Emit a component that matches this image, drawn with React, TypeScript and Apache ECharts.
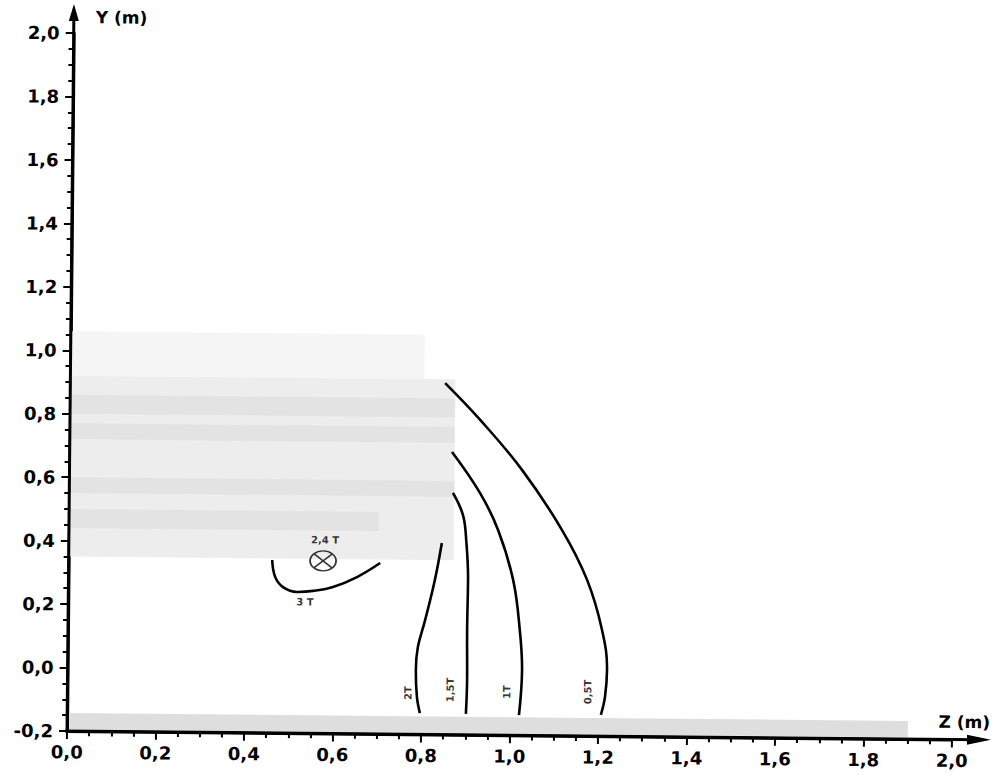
import React, { useEffect, useRef } from 'react';
import * as echarts from 'echarts';

// Field-line contours (Z in m, Y in m)
const curve05T = [[0.847, 0.908], [0.927, 0.793], [1.023, 0.636], [1.114, 0.449], [1.172, 0.292], [1.207, 0.134], [1.219, 0.009], [1.215, -0.076], [1.206, -0.133]];
const curve1T = [[0.864, 0.691], [0.928, 0.563], [0.970, 0.446], [1.005, 0.289], [1.021, 0.132], [1.027, 0.006], [1.021, -0.136]];
const curve15T = [[0.867, 0.562], [0.890, 0.493], [0.898, 0.414], [0.903, 0.288], [0.902, 0.130], [0.903, -0.027], [0.901, -0.134]];
const curve2T = [[0.843, 0.404], [0.828, 0.287], [0.807, 0.161], [0.791, 0.075], [0.787, 0.003], [0.790, -0.082], [0.797, -0.133]];
const curve3T = [[0.460, 0.345], [0.467, 0.292], [0.485, 0.260], [0.517, 0.245], [0.553, 0.249], [0.598, 0.262], [0.652, 0.294], [0.704, 0.339]];

// Contour labels
const labelNames = ['2T', '1,5T', '1T', '0,5T', '3 T', '2,4 T'];
const labelPos = [[0.770, -0.070], [0.865, -0.059], [0.993, -0.064], [1.176, -0.061], [0.535, 0.214], [0.579, 0.410]];
const labelVertical = [true, true, true, true, false, false];

// Peak marker (2,4 T)
const peakPoint = [[0.575, 0.344]];

// Shaded zones: [zStart, zEnd, yStart, yEnd]
const zoneUpperFringe = [0.0, 0.80, 0.92, 1.06];
const zoneUpper = [0.0, 0.87, 0.35, 0.92];
const zoneBands = [[0.0, 0.87, 0.80, 0.86], [0.0, 0.87, 0.72, 0.77], [0.0, 0.87, 0.55, 0.60], [0.0, 0.70, 0.44, 0.50]];
const zoneFloor = [0.005, 1.9, -0.195, -0.143];

const zMin = 0, zMax = 2.0, yMin = -0.2, yMax = 2.0, step = 0.2;

const fmt = (v: number) => (Math.abs(v) < 1e-9 ? 0 : v).toFixed(1).replace('.', ',');

const FONT = 'DejaVu Sans';

export default function App() {
  const ref = useRef<HTMLDivElement>(null);
  useEffect(() => {
    document.body.style.margin = '0';
    document.body.style.overflow = 'hidden';
    const chart = echarts.init(ref.current!, null, { renderer: 'svg' });
    const L = 67, T = 33, R = 952, B = 731;

    const rectSeries = (zones: number[][], color: string) => ({
      type: 'custom',
      silent: true,
      z: 1,
      data: zones,
      renderItem: (params: any, api: any) => {
        const p0 = api.coord([api.value(0), api.value(3)]);
        const p1 = api.coord([api.value(1), api.value(2)]);
        return {
          type: 'rect',
          shape: { x: p0[0], y: p0[1], width: p1[0] - p0[0], height: p1[1] - p0[1] },
          style: { fill: color },
        };
      },
    });

    const lineSeries = (data: number[][]) => ({
      type: 'line',
      data,
      smooth: 0.4,
      showSymbol: false,
      silent: true,
      z: 5,
      lineStyle: { color: '#000', width: 2.6 },
    });

    const axisCommon = {
      type: 'value',
      interval: step,
      splitLine: { show: false },
      axisLine: { show: true, onZero: false, lineStyle: { color: '#000', width: 3 } },
      axisTick: { show: true, length: 8, lineStyle: { color: '#000', width: 2 } },
      minorTick: { show: true, splitNumber: 4, length: 5, lineStyle: { color: '#000', width: 2 } },
      minorSplitLine: { show: false },
    };

    const labelFont = { color: '#000', fontSize: 18, fontWeight: 'bold', fontFamily: FONT };

    chart.setOption({
      animation: false,
      grid: { left: L, top: T, right: 994 - R, bottom: 775 - B, containLabel: false, outerBoundsMode: 'none' },
      xAxis: {
        ...axisCommon,
        min: zMin,
        max: zMax,
        name: 'Z (m)',
        nameLocation: 'end',
        nameGap: 38,
        nameTextStyle: { ...labelFont, fontSize: 17, align: 'right', verticalAlign: 'bottom', padding: [0, 0, 9, 0] },
        axisLabel: { ...labelFont, formatter: fmt, margin: 12 },
      },
      yAxis: {
        ...axisCommon,
        min: yMin,
        max: yMax,
        name: 'Y (m)',
        nameLocation: 'end',
        nameGap: 16,
        nameTextStyle: { ...labelFont, fontSize: 17, align: 'left', verticalAlign: 'middle', padding: [0, 0, 0, 22] },
        axisLabel: { ...labelFont, formatter: fmt, margin: 14 },
      },
      graphic: [
        { type: 'polyline', shape: { points: [[L - 1.5, B], [R + 28, B]] }, style: { stroke: '#000', lineWidth: 3, fill: null }, z: 30 },
        { type: 'polygon', shape: { points: [[R + 15, B - 5], [R + 39, B], [R + 15, B + 5]] }, style: { fill: '#000' }, z: 30 },
        { type: 'polyline', shape: { points: [[L, B + 1.5], [L, T - 18]] }, style: { stroke: '#000', lineWidth: 3, fill: null }, z: 30 },
        { type: 'polygon', shape: { points: [[L - 5, T - 12], [L, T - 29], [L + 5, T - 12]] }, style: { fill: '#000' }, z: 30 },
        { type: 'ellipse', shape: { cx: 908, cy: -9, rx: 8, ry: 5 }, style: { fill: '#000' }, z: 30 },
        { type: 'ellipse', shape: { cx: 966, cy: -12, rx: 18, ry: 11 }, style: { fill: '#000' }, z: 30 },
      ],
      series: [
        rectSeries([zoneUpperFringe], '#f5f5f5'),
        rectSeries([zoneUpper], '#ededed'),
        rectSeries(zoneBands, '#e3e3e3'),
        rectSeries([zoneFloor], '#dedede'),
        lineSeries(curve05T),
        lineSeries(curve1T),
        lineSeries(curve15T),
        lineSeries(curve2T),
        lineSeries(curve3T),
        {
          type: 'scatter',
          silent: true,
          z: 6,
          data: peakPoint,
          symbol: 'path://M0 10 A10 10 0 1 1 20 10 A10 10 0 1 1 0 10 Z M3 3 L17 17 M17 3 L3 17',
          symbolSize: [26, 20],
          itemStyle: { color: 'rgba(0,0,0,0)', borderColor: '#000', borderWidth: 1.6 },
        },
        {
          type: 'scatter',
          silent: true,
          z: 7,
          symbolSize: 0,
          data: labelNames.map((n, i) => ({
            name: n,
            value: labelPos[i],
            label: { rotate: labelVertical[i] ? 90 : 0 },
          })),
          label: {
            show: true,
            position: 'inside',
            formatter: '{b}',
            color: '#000',
            fontSize: 10,
            fontWeight: 'bold',
            fontFamily: FONT,
          },
        },
      ],
    });
    return () => chart.dispose();
  }, []);
  return (
    <div
      ref={ref}
      style={{ width: 994, height: 775, transform: 'rotate(0.55deg)', transformOrigin: '67px 731px' }}
    />
  );
}
